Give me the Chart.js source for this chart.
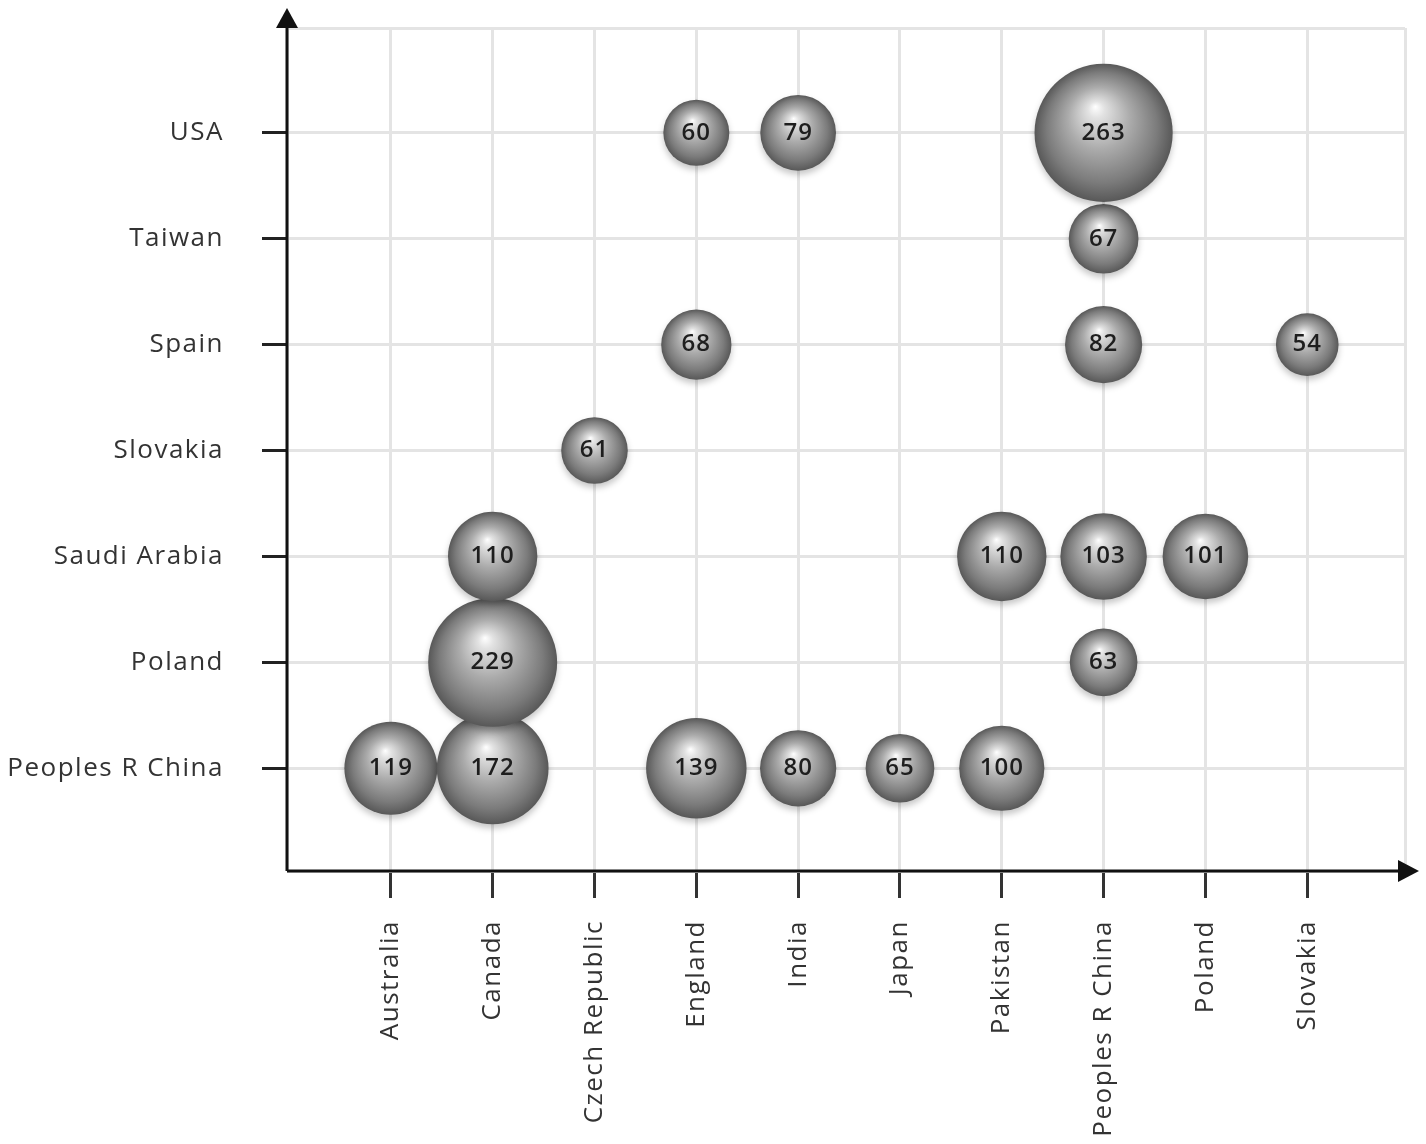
<!DOCTYPE html>
<html>
<head>
<meta charset="utf-8">
<script src="https://cdn.jsdelivr.net/npm/chart.js@4.4.1/dist/chart.umd.min.js"></script>
<style>
  html, body { margin: 0; padding: 0; background: #fff; }
  #wrap { width: 1426px; height: 1144px; }
</style>
</head>
<body>
<div id="wrap"><canvas id="myChart"></canvas></div>
<script>
// x axis categories
var xLabels = ['Australia', 'Canada', 'Czech Republic', 'England', 'India', 'Japan', 'Pakistan', 'Peoples R China', 'Poland', 'Slovakia'];
// y axis categories (bottom -> top)
var yLabels = ['Peoples R China', 'Poland', 'Saudi Arabia', 'Slovakia', 'Spain', 'Taiwan', 'USA'];

// one row per y category, one value per x category
var rowPeoplesRChina = [119, 172, null, 139, 80, 65, 100, null, null, null];
var rowPoland        = [null, 229, null, null, null, null, null, 63, null, null];
var rowSaudiArabia   = [null, 110, null, null, null, null, 110, 103, 101, null];
var rowSlovakia      = [null, null, 61, null, null, null, null, null, null, null];
var rowSpain         = [null, null, null, 68, null, null, null, 82, null, 54];
var rowTaiwan        = [null, null, null, null, null, null, null, 67, null, null];
var rowUSA           = [null, null, null, 60, 79, null, null, 263, null, null];

var rows = [rowPeoplesRChina, rowPoland, rowSaudiArabia, rowSlovakia, rowSpain, rowTaiwan, rowUSA];

var points = [];
for (var j = 0; j < rows.length; j++) {
    for (var i = 0; i < rows[j].length; i++) {
        if (rows[j][i] != null) {
            points.push({ x: i, y: j, v: rows[j][i], r: 4.26 * Math.sqrt(rows[j][i]) });
        }
    }
}

var tickFont = { family: 'Open Sans', size: 26 };

function sphere(c) {
    if (!c.raw || !c.chart.scales.x) return '#999';
    var cx = c.chart.scales.x.getPixelForValue(c.raw.x);
    var cy = c.chart.scales.y.getPixelForValue(c.raw.y);
    var r = c.raw.r;
    if (!isFinite(cx) || !isFinite(cy)) return '#999';
    var g = c.chart.ctx.createRadialGradient(cx - 0.12 * r, cy - 0.38 * r, 0, cx, cy, r);
    g.addColorStop(0, '#ffffff');
    g.addColorStop(0.12, '#e2e2e2');
    g.addColorStop(0.45, '#ababab');
    g.addColorStop(0.8, '#7b7b7b');
    g.addColorStop(1, '#585858');
    return g;
}

// the reference text is loosely spaced
var spacingPlugin = {
    id: 'spacing',
    beforeLayout: function(chart) { chart.ctx.letterSpacing = '1.5px'; },
    beforeDraw: function(chart) { chart.ctx.letterSpacing = '1.5px'; }
};

var axesPlugin = {
    id: 'axesArrows',
    beforeDatasetsDraw: function(chart) {
        var ctx = chart.ctx;
        ctx.save();
        ctx.shadowColor = 'rgba(0,0,0,0.22)';
        ctx.shadowBlur = 6;
        ctx.shadowOffsetY = 4;
    },
    afterDatasetsDraw: function(chart) {
        var ctx = chart.ctx;
        ctx.restore();
        // value labels inside bubbles
        var meta = chart.getDatasetMeta(0);
        ctx.save();
        ctx.font = '600 24px "Open Sans"';
        ctx.letterSpacing = '1px';
        ctx.fillStyle = '#1e1e1e';
        ctx.textAlign = 'center';
        ctx.textBaseline = 'middle';
        meta.data.forEach(function(el, k) {
            ctx.fillText(points[k].v, el.x, el.y);
        });
        ctx.restore();

        // axis lines with arrow heads
        var a = chart.chartArea;
        ctx.save();
        ctx.strokeStyle = '#111';
        ctx.fillStyle = '#111';
        ctx.lineWidth = 3;
        ctx.beginPath();
        ctx.moveTo(a.left, a.bottom);
        ctx.lineTo(a.left, a.top - 6);
        ctx.moveTo(a.left, a.bottom);
        ctx.lineTo(a.right + 4, a.bottom);
        ctx.stroke();
        ctx.beginPath();
        ctx.moveTo(a.left, a.top - 20);
        ctx.lineTo(a.left - 11, a.top);
        ctx.lineTo(a.left + 11, a.top);
        ctx.closePath();
        ctx.fill();
        ctx.beginPath();
        ctx.moveTo(a.right + 14, a.bottom);
        ctx.lineTo(a.right - 7, a.bottom - 11);
        ctx.lineTo(a.right - 7, a.bottom + 11);
        ctx.closePath();
        ctx.fill();
        ctx.restore();
    }
};

// one tick per category plus the two plot edges
function categoryTicks(count) {
    return function(scale) {
        scale.ticks = [{ value: scale.min }];
        for (var v = 0; v < count; v++) scale.ticks.push({ value: v });
        scale.ticks.push({ value: scale.max });
    };
}

function isCategory(c, count) {
    return c.tick && Number.isInteger(c.tick.value) && c.tick.value >= 0 && c.tick.value < count;
}

function noPad(scale) {
    scale.paddingLeft = 0;
    scale.paddingRight = 0;
    scale.paddingTop = 0;
    scale.paddingBottom = 0;
}

var ctx = document.getElementById('myChart');
var myChart = new Chart(ctx, {
    type: 'bubble',
    data: {
        datasets: [{
            data: points,
            backgroundColor: sphere,
            borderWidth: 0
        }]
    },
    options: {
        responsive: true,
        maintainAspectRatio: false,
        animation: false,
        events: [],
        layout: { autoPadding: false, padding: { top: 28, right: 21, left: 0, bottom: 0 } },
        plugins: {
            legend: { display: false },
            tooltip: { enabled: false }
        },
        scales: {
            x: {
                type: 'linear',
                min: -1.02,
                max: 9.96,
                afterBuildTicks: categoryTicks(xLabels.length),
                afterFit: function(scale) { scale.height = 273; noPad(scale); },
                border: { display: false },
                grid: {
                    color: '#e4e4e4',
                    lineWidth: 3,
                    tickLength: 27,
                    tickWidth: 3,
                    tickColor: function(c) {
                        return isCategory(c, xLabels.length) ? '#333' : 'rgba(0,0,0,0)';
                    }
                },
                ticks: {
                    autoSkip: false,
                    minRotation: 90,
                    maxRotation: 90,
                    padding: 22,
                    color: '#333',
                    font: tickFont,
                    callback: function(v) { return xLabels[v] || ''; }
                }
            },
            y: {
                type: 'linear',
                min: -0.97,
                max: 6.99,
                afterBuildTicks: categoryTicks(yLabels.length),
                afterFit: function(scale) { scale.width = 287; noPad(scale); },
                border: { display: false },
                grid: {
                    color: '#e4e4e4',
                    lineWidth: 3,
                    tickLength: 25,
                    tickWidth: 3,
                    tickColor: function(c) {
                        return isCategory(c, yLabels.length) ? '#222' : 'rgba(0,0,0,0)';
                    }
                },
                ticks: {
                    autoSkip: false,
                    padding: 38,
                    color: '#333',
                    font: tickFont,
                    callback: function(v) { return yLabels[v] || ''; }
                }
            }
        }
    },
    plugins: [spacingPlugin, axesPlugin]
});
</script>
</body>
</html>
